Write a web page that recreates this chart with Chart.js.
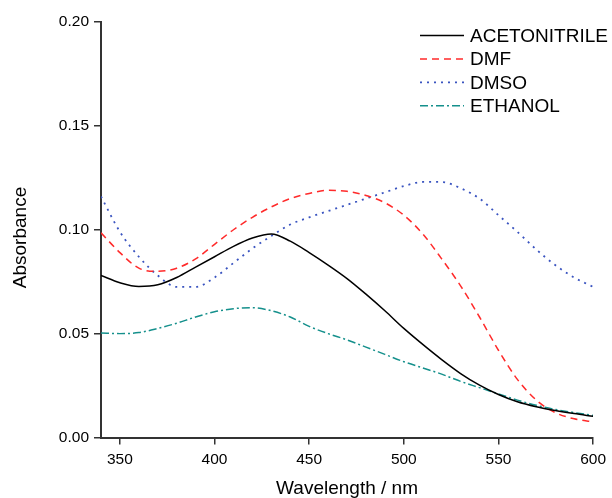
<!DOCTYPE html>
<html>
<head>
<meta charset="utf-8">
<script src="https://cdn.jsdelivr.net/npm/chart.js@4"></script>
<style>
  body { margin: 0; background: #fff; }
</style>
</head>
<body>
<canvas id="myChart" width="612" height="498"></canvas>
<script>
// Datos
const wavelengths = [340, 350, 360, 370, 380, 390, 400, 410, 420, 430, 440, 450, 460, 470,
                     480, 490, 500, 510, 520, 530, 540, 550, 560, 570, 580, 590, 600];
const acetonitrile = [0.078, 0.0745, 0.0727, 0.0735, 0.077, 0.082, 0.087, 0.092, 0.096, 0.098, 0.0945, 0.089, 0.083, 0.0765,
                      0.069, 0.061, 0.0525, 0.0448, 0.0375, 0.0308, 0.0252, 0.0207, 0.0172, 0.0148, 0.013, 0.0115, 0.0102];
const dmf = [0.0985, 0.089, 0.0815, 0.080, 0.0815, 0.086, 0.093, 0.100, 0.106, 0.111, 0.115, 0.1175, 0.119, 0.1185,
             0.1165, 0.113, 0.107, 0.098, 0.086, 0.073, 0.058, 0.042, 0.028, 0.018, 0.012, 0.009, 0.0075];
const dmso = [0.116, 0.099, 0.087, 0.078, 0.0725, 0.0725, 0.077, 0.084, 0.091, 0.097, 0.1025, 0.106, 0.109, 0.112,
              0.115, 0.118, 0.121, 0.123, 0.123, 0.120, 0.115, 0.107, 0.099, 0.0905, 0.083, 0.077, 0.0725];
const ethanol = [0.0503, 0.050, 0.0505, 0.0525, 0.055, 0.058, 0.0605, 0.062, 0.0625, 0.061, 0.058, 0.0535, 0.050, 0.047,
                 0.0435, 0.040, 0.0365, 0.0335, 0.0305, 0.027, 0.024, 0.021, 0.018, 0.0155, 0.0135, 0.012, 0.0106];
const xTicks = [350, 400, 450, 500, 550, 600];
const yTicks = [0, 0.05, 0.10, 0.15, 0.20];

const FONT = "'Liberation Sans', Arial, sans-serif";

function toPoints(ys) {
    return wavelengths.map((x, i) => ({ x: x, y: ys[i] }));
}

// Leyenda arriba a la derecha y titulo del eje Y
const extrasPlugin = {
    id: 'extras',
    afterDraw(chart) {
        const c = chart.ctx;
        c.save();
        chart.data.datasets.forEach((ds, i) => {
            const y = 35.5 + i * 23.4;
            c.strokeStyle = ds.borderColor;
            c.lineWidth = ds.borderWidth;
            c.setLineDash(ds.borderDash || []);
            c.beginPath();
            c.moveTo(420, y);
            c.lineTo(464, y);
            c.stroke();
            c.setLineDash([]);
            c.fillStyle = '#000';
            c.font = '19px ' + FONT;
            c.textBaseline = 'middle';
            c.fillText(ds.label, 470, y + 1);
        });
        // titulo eje Y
        c.translate(21, 237.5);
        c.rotate(-Math.PI / 2);
        c.font = '19px ' + FONT;
        c.fillStyle = '#000';
        c.textAlign = 'center';
        c.textBaseline = 'middle';
        c.fillText('Absorbance', 0, 0);
        c.restore();
    }
};

const ctx = document.getElementById('myChart').getContext('2d');
const myChart = new Chart(ctx, {
    type: 'line',
    data: {
        datasets: [
            { label: 'ACETONITRILE', data: toPoints(acetonitrile), borderColor: '#000000', borderWidth: 1.5 },
            { label: 'DMF', data: toPoints(dmf), borderColor: '#ff2a2a', borderWidth: 1.5, borderDash: [7, 5] },
            { label: 'DMSO', data: toPoints(dmso), borderColor: '#3a54c0', borderWidth: 1.8, borderDash: [2, 5] },
            { label: 'ETHANOL', data: toPoints(ethanol), borderColor: '#15908c', borderWidth: 1.5, borderDash: [8, 3, 2, 3] }
        ]
    },
    options: {
        responsive: false,
        animation: false,
        layout: { padding: { top: 22, right: 17, left: 0, bottom: 0 } },
        elements: {
            point: { radius: 0 },
            line: { cubicInterpolationMode: 'monotone', fill: false }
        },
        plugins: { legend: { display: false }, tooltip: { enabled: false } },
        scales: {
            x: {
                type: 'linear',
                min: 340,
                max: 600,
                afterBuildTicks: (s) => { s.ticks = xTicks.map(v => ({ value: v })); },
                afterFit: (s) => { s.height = 60.5; },
                grid: { drawOnChartArea: false, drawTicks: true, tickLength: 7, color: '#333', lineWidth: 1.5 },
                border: { display: true, color: '#333', width: 2 },
                ticks: { color: '#000', padding: 6, maxRotation: 0, font: { family: FONT, size: 15.5 } },
                title: { display: true, text: 'Wavelength / nm', color: '#000', padding: 0,
                         font: { family: FONT, size: 19, lineHeight: 1.0 } }
            },
            y: {
                type: 'linear',
                min: 0,
                max: 0.2,
                afterBuildTicks: (s) => { s.ticks = yTicks.map(v => ({ value: v })); },
                afterFit: (s) => { s.width = 101; },
                grid: { drawOnChartArea: false, drawTicks: true, tickLength: 7, color: '#333', lineWidth: 1.5 },
                border: { display: true, color: '#333', width: 2 },
                ticks: { color: '#000', padding: 5, font: { family: FONT, size: 15.5 },
                         callback: (v) => Number(v).toFixed(2) }
            }
        }
    },
    plugins: [extrasPlugin]
});
</script>
</body>
</html>
